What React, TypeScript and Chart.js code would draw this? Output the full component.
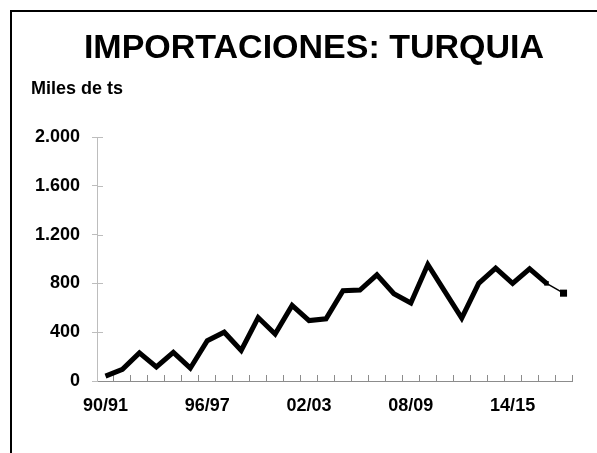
import React, { useEffect, useRef } from 'react';
import { Chart, registerables } from 'chart.js';

Chart.register(...registerables);

const categories = [
  '90/91', '91/92', '92/93', '93/94', '94/95', '95/96', '96/97', '97/98', '98/99', '99/00',
  '00/01', '01/02', '02/03', '03/04', '04/05', '05/06', '06/07', '07/08', '08/09', '09/10',
  '10/11', '11/12', '12/13', '13/14', '14/15', '15/16', '16/17', '17/18',
];

const imports = [
  40, 95, 230, 115, 235, 105, 330, 400, 250, 520,
  385, 620, 495, 510, 740, 745, 870, 715, 640, 955,
  735, 515, 800, 925, 800, 920, 800, 720,
];

const titleText = 'IMPORTACIONES: TURQUIA';
const unitText = 'Miles de ts';
const labelEvery = 6;
const forecastStart = 26;

const FONT = "'Liberation Sans', Arial, Helvetica, sans-serif";

const fmt = (v: number) => String(v).replace(/\B(?=(\d{3})+(?!\d))/g, '.');

const innerYTicks = {
  id: 'innerYTicks',
  afterDraw(chart: any) {
    const y = chart.scales.y;
    const ctx = chart.ctx;
    ctx.save();
    ctx.strokeStyle = '#bdbdbd';
    ctx.lineWidth = 1;
    y.ticks.forEach((t: any) => {
      if (t.value === 0) return;
      const py = Math.round(y.getPixelForValue(t.value)) + 0.5;
      ctx.beginPath();
      ctx.moveTo(y.right, py);
      ctx.lineTo(y.right + 6, py);
      ctx.stroke();
    });
    ctx.restore();
  },
};

export default function App() {
  const ref = useRef<HTMLCanvasElement | null>(null);

  useEffect(() => {
    if (!ref.current) return;
    Chart.defaults.font.family = FONT;
    const chart = new Chart(ref.current, {
      type: 'line',
      data: {
        labels: categories,
        datasets: [
          {
            data: imports,
            borderColor: '#000',
            backgroundColor: '#000',
            borderWidth: 5,
            borderJoinStyle: 'miter',
            tension: 0,
            pointStyle: 'rect',
            pointRadius: (c: any) =>
              c.dataIndex === forecastStart ? 3.2 : c.dataIndex === forecastStart + 1 ? 5 : 0,
            pointBorderWidth: 0,
            pointBackgroundColor: '#000',
            segment: {
              borderWidth: (c: any) => (c.p0DataIndex >= forecastStart ? 1.5 : undefined),
            },
          } as any,
        ],
      },
      options: {
        responsive: false,
        animation: false,
        events: [],
        layout: { padding: { left: 31, right: 0, top: 0, bottom: 0 } },
        plugins: {
          legend: { display: false },
          tooltip: { enabled: false },
          title: {
            display: true,
            text: titleText,
            color: '#000',
            font: { family: FONT, size: 34, weight: 'bold' },
            padding: { top: 28, bottom: 5 },
          },
          subtitle: {
            display: true,
            text: unitText,
            align: 'start',
            color: '#000',
            font: { family: FONT, size: 18, weight: 'bold' },
            padding: { top: 4, bottom: 37.6 },
          },
        },
        scales: {
          x: {
            offset: true,
            grid: {
              offset: true,
              drawOnChartArea: false,
              tickLength: -6,
              color: '#8c8c8c',
              lineWidth: 1,
            },
            border: { color: '#8c8c8c', width: 1 },
            ticks: {
              autoSkip: false,
              maxRotation: 0,
              minRotation: 0,
              padding: 20,
              color: '#000',
              font: { family: FONT, size: 18, weight: 'bold' },
              callback: (_v: any, i: number) => (i % labelEvery === 0 ? categories[i] : ''),
            },
            afterFit: (s: any) => {
              s.height = 72;
            },
          },
          y: {
            min: 0,
            max: 2000,
            ticks: {
              stepSize: 400,
              padding: 12,
              color: '#000',
              font: { family: FONT, size: 18, weight: 'bold' },
              callback: (v: any) => fmt(Number(v)),
            },
            grid: { drawOnChartArea: false, tickLength: 5, color: '#bdbdbd' },
            border: { color: '#bdbdbd', width: 1 },
            afterFit: (s: any) => {
              s.width = 66;
            },
          },
          yR: {
            position: 'right',
            display: true,
            grid: { display: false },
            border: { display: false },
            ticks: { display: false },
            afterFit: (s: any) => {
              s.width = 25;
            },
          },
        },
      } as any,
      plugins: [innerYTicks],
    });
    return () => chart.destroy();
  }, []);

  return (
    <div style={{ position: 'fixed', left: 0, top: 0, width: 597, height: 453, overflow: 'hidden', background: '#fff' }}>
      <div
        style={{
          position: 'absolute',
          left: 10,
          top: 10,
          width: 700,
          height: 600,
          borderLeft: '2px solid #000',
          borderTop: '2px solid #000',
        }}
      />
      <canvas ref={ref} width={597} height={453} style={{ position: 'absolute', left: 0, top: 0 }} />
    </div>
  );
}
